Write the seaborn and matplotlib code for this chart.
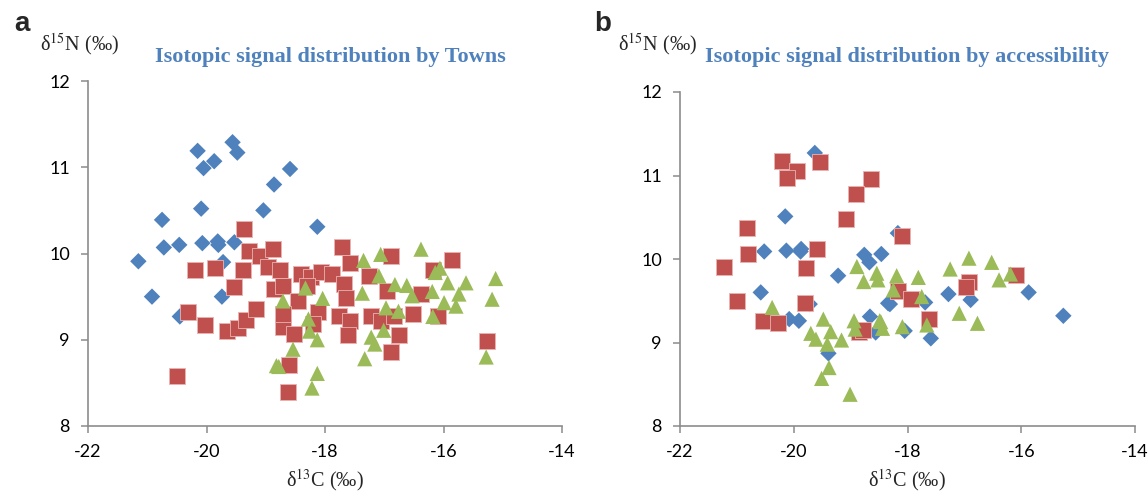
import pandas as pd
import matplotlib
matplotlib.use('Agg')
import matplotlib.pyplot as plt
import seaborn as sns

# panel a: by towns (d13C, d15N)
town1_c = [-21.15, -20.92, -20.75, -20.72, -20.46, -20.45, -20.15, -19.56, -19.48, -19.87, -20.05,
           -18.59, -18.86, -20.09, -19.04, -18.13, -20.07, -19.81, -19.80, -19.53, -19.72, -19.74]
town1_n = [9.91, 9.50, 10.39, 10.07, 10.10, 9.27, 11.19, 11.29, 11.17, 11.07, 10.99,
           10.98, 10.80, 10.52, 10.50, 10.31, 10.12, 10.14, 10.10, 10.13, 9.90, 9.50]
town2_c = [-20.50, -20.31, -20.19, -20.02, -19.86, -19.66, -19.46, -19.33, -19.17, -19.36, -19.28,
           -19.10, -18.87, -19.54, -19.39, -18.96, -18.76, -18.86, -18.71, -18.45, -18.71, -18.52,
           -18.61, -18.62, -18.40, -18.23, -18.06, -17.89, -17.71, -17.57, -17.68, -17.64, -18.71,
           -18.12, -18.20, -17.76, -17.57, -17.61, -17.26, -17.22, -17.05, -16.89, -16.95, -16.84,
           -16.75, -16.89, -16.51, -16.38, -16.18, -16.09, -15.86, -15.26, -18.30]
town2_n = [8.58, 9.32, 9.81, 9.17, 9.83, 9.10, 9.14, 9.23, 9.36, 10.28, 10.03,
           9.97, 10.05, 9.61, 9.81, 9.84, 9.81, 9.59, 9.62, 9.45, 9.15, 9.07,
           8.71, 8.39, 9.76, 9.73, 9.78, 9.76, 10.07, 9.89, 9.65, 9.48, 9.30,
           9.32, 9.18, 9.27, 9.22, 9.05, 9.74, 9.28, 9.22, 9.97, 9.57, 9.27,
           9.05, 8.86, 9.30, 9.53, 9.81, 9.27, 9.92, 8.99, 9.62]
town3_c = [-16.38, -17.06, -17.35, -15.12, -16.06, -16.14, -15.93, -15.62, -17.09, -16.82, -16.62,
           -16.53, -16.19, -15.74, -15.99, -15.79, -15.18, -17.37, -18.33, -18.04, -16.97, -16.76,
           -16.18, -18.28, -18.26, -18.13, -17.01, -17.22, -17.16, -17.33, -18.13, -18.22, -15.28,
           -18.71, -18.54, -18.82, -18.78]
town3_n = [10.05, 9.99, 9.92, 9.71, 9.83, 9.78, 9.66, 9.66, 9.74, 9.64, 9.63,
           9.51, 9.56, 9.53, 9.43, 9.39, 9.47, 9.54, 9.60, 9.48, 9.37, 9.33,
           9.27, 9.24, 9.10, 9.00, 9.11, 9.03, 8.95, 8.78, 8.61, 8.44, 8.80,
           9.45, 8.89, 8.70, 8.69]

# panel b: by accessibility
acc1_c = [-19.63, -20.15, -20.52, -20.13, -19.87, -19.88, -18.76, -18.67, -18.46, -19.22, -20.58,
          -19.72, -18.34, -20.08, -19.91, -18.66, -18.17, -17.28, -16.89, -15.87, -15.26, -18.31,
          -17.69, -17.59, -18.56, -18.05, -19.39]
acc1_n = [11.27, 10.51, 10.09, 10.10, 10.12, 10.09, 10.05, 9.96, 10.06, 9.80, 9.60,
          9.46, 9.47, 9.28, 9.26, 9.31, 10.31, 9.58, 9.51, 9.60, 9.32, 9.46,
          9.48, 9.05, 9.12, 9.14, 8.87]
acc2_c = [-20.21, -19.53, -19.94, -20.11, -18.64, -18.91, -19.09, -20.82, -20.80, -19.59, -21.23,
          -19.79, -20.99, -19.80, -20.54, -20.27, -18.10, -16.09, -16.92, -16.97, -18.16, -17.93,
          -17.62, -18.86, -18.78]
acc2_n = [11.17, 11.16, 11.05, 10.97, 10.96, 10.78, 10.48, 10.37, 10.06, 10.12, 9.90,
          9.89, 9.50, 9.47, 9.26, 9.23, 10.27, 9.81, 9.73, 9.66, 9.62, 9.52,
          9.28, 9.13, 9.15]
acc3_c = [-18.89, -18.77, -18.54, -18.52, -20.38, -19.48, -18.94, -18.49, -18.19, -17.81, -17.25,
          -16.92, -16.52, -16.19, -16.39, -17.09, -16.77, -18.25, -17.75, -17.66, -18.47, -18.44,
          -18.09, -19.70, -19.61, -19.35, -19.41, -19.16, -19.38, -19.51, -19.01, -18.92]
acc3_n = [9.91, 9.73, 9.83, 9.75, 9.42, 9.28, 9.26, 9.26, 9.80, 9.78, 9.88,
          10.01, 9.96, 9.82, 9.75, 9.35, 9.23, 9.63, 9.55, 9.21, 9.25, 9.17,
          9.19, 9.11, 9.04, 9.13, 8.98, 9.03, 8.70, 8.57, 8.38, 9.16]

blue = '#4F81BD'
red = '#C0504D'
green = '#9BBB59'

sns.set_style('white')
plt.rcParams['font.family'] = ['Lato', 'DejaVu Sans']
plt.rcParams['mathtext.fontset'] = 'stix'
plt.rcParams['axes.unicode_minus'] = False

fig = plt.figure(figsize=(11.48, 4.92), dpi=100)
ax1 = fig.add_axes([88 / 1148, 1 - 426 / 492, 474 / 1148, 345 / 492])
ax2 = fig.add_axes([680 / 1148, 1 - 426 / 492, 455 / 1148, 334 / 492])

panels = [
    (ax1, [(town1_c, town1_n), (town2_c, town2_n), (town3_c, town3_n)]),
    (ax2, [(acc1_c, acc1_n), (acc2_c, acc2_n), (acc3_c, acc3_n)]),
]
styles = [('D', blue, 70, 'none'), ('s', red, 118, '#e8b4b2'), ('^', green, 120, 'none')]

for ax, groups in panels:
    for (xs, ys), (mk, col, size, ec) in zip(groups, styles):
        df = pd.DataFrame({'c13': xs, 'n15': ys})
        sns.scatterplot(data=df, x='c13', y='n15', ax=ax, marker=mk, color=col,
                        s=size, edgecolor=ec, linewidth=0.6 if ec != 'none' else 0)
    ax.set_xlim(-22, -14)
    ax.set_ylim(8, 12)
    ax.set_xticks([-22, -20, -18, -16, -14])
    ax.set_yticks([8, 9, 10, 11, 12])
    ax.set_xlabel('')
    ax.set_ylabel('')
    for side in ['top', 'right']:
        ax.spines[side].set_visible(False)
    for side in ['left', 'bottom']:
        ax.spines[side].set_color('#8c8c8c')
        ax.spines[side].set_linewidth(1.2)
    ax.tick_params(axis='both', direction='out', length=5, width=1.1, color='#8c8c8c',
                   labelsize=13, labelcolor='#000000', left=True, bottom=True)
    ax.tick_params(axis='x', pad=8)
    ax.tick_params(axis='y', pad=8)

serif = ['Liberation Serif', 'DejaVu Serif']
title_col = '#4F81BD'

fig.text(14 / 1148, 1 - 24 / 492, 'a', fontsize=20, fontweight='bold', ha='left', va='center',
         family=['Liberation Sans', 'DejaVu Sans'])
fig.text(594 / 1148, 1 - 24 / 492, 'b', fontsize=20, fontweight='bold', ha='left', va='center',
         family=['Liberation Sans', 'DejaVu Sans'])

fig.text(79 / 1148, 1 - 45 / 492, 'δ$^{15}$N (‰)', fontsize=14.5, ha='center', va='center', family=serif)
fig.text(657 / 1148, 1 - 45 / 492, 'δ$^{15}$N (‰)', fontsize=14.5, ha='center', va='center', family=serif)

fig.text(330 / 1148, 1 - 57 / 492, 'Isotopic signal distribution by Towns', fontsize=16,
         fontweight='bold', color=title_col, ha='center', va='center', family=serif)
fig.text(907 / 1148, 1 - 57 / 492, 'Isotopic signal distribution by accessibility', fontsize=16,
         fontweight='bold', color=title_col, ha='center', va='center', family=serif)

fig.text(325 / 1148, 1 - 480 / 492, 'δ$^{13}$C (‰)', fontsize=14.5, ha='center', va='center', family=serif)
fig.text(907 / 1148, 1 - 480 / 492, 'δ$^{13}$C (‰)', fontsize=14.5, ha='center', va='center', family=serif)

plt.savefig('out.png', dpi=100)
plt.close()
